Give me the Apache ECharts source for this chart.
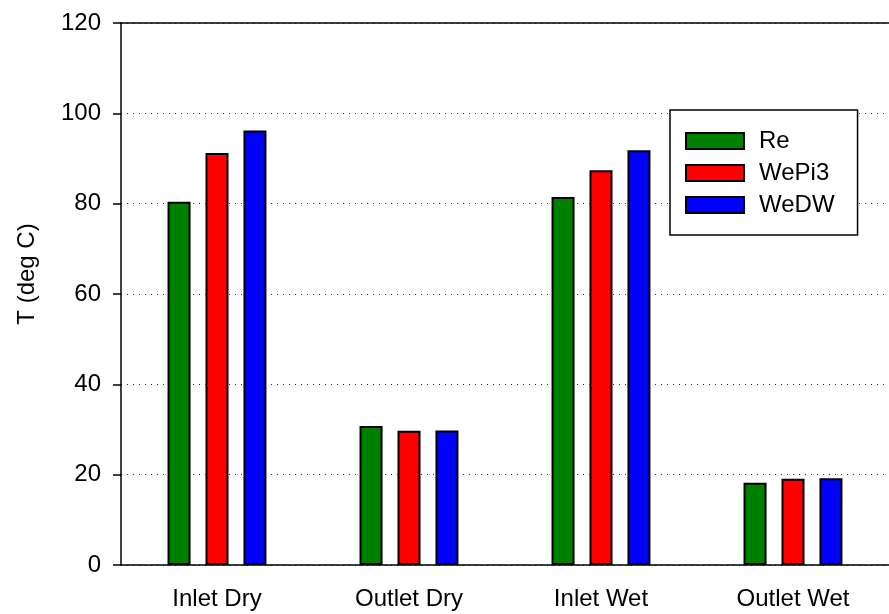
<!DOCTYPE html>
<html>
<head>
<meta charset="utf-8">
<script src="https://cdn.jsdelivr.net/npm/echarts@6/dist/echarts.min.js"></script>
<style>
  html, body { margin: 0; padding: 0; background: #fff; }
  #chart { width: 889px; height: 614px; }
</style>
</head>
<body>
<div id="chart"></div>
<script>
const categories = ['Inlet Dry', 'Outlet Dry', 'Inlet Wet', 'Outlet Wet']
const reValues = [80.4, 30.8, 81.5, 18.2]
const wePi3Values = [91.2, 29.7, 87.4, 19.1]
const weDWValues = [96.2, 29.8, 91.8, 19.2]
const yTicks = { min: 0, max: 120, interval: 20 }

const font = "Arial, 'Liberation Sans', sans-serif"
const colors = ['#008000', '#ff0000', '#0000ff']

function barSeries(name, values, i) {
  return {
    name,
    type: 'bar',
    data: values,
    barWidth: 23,
    barGap: '65%',
    itemStyle: { color: colors[i], borderColor: '#000', borderWidth: 2 },
  }
}

const myChart = echarts.init(document.getElementById('chart'))
myChart.setOption({
  animation: false,
  textStyle: { fontFamily: font },
  grid: { left: 121, top: 23, width: 773, bottom: 49 },
  legend: {
    orient: 'vertical',
    left: 670,
    top: 110,
    backgroundColor: '#fff',
    borderColor: '#000',
    borderWidth: 1.5,
    padding: [19, 23, 18, 15],
    icon: 'rect',
    itemWidth: 58,
    itemHeight: 16,
    itemGap: 8,
    itemStyle: { borderColor: '#000', borderWidth: 2 },
    textStyle: { fontSize: 24, color: '#000', fontFamily: font, padding: [0, 0, 0, 10] },
    data: ['Re', 'WePi3', 'WeDW'],
  },
  xAxis: [{
    type: 'category',
    data: categories,
    axisLine: { lineStyle: { color: '#000', width: 1.5 } },
    axisTick: { alignWithLabel: true, length: 8, lineStyle: { color: '#000', width: 1.5 } },
    axisLabel: { fontSize: 24, color: '#000', margin: 22, fontFamily: font },
  }, {
    type: 'category',
    position: 'top',
    data: categories,
    axisLine: { lineStyle: { color: '#000', width: 1.5 } },
    axisTick: { show: false },
    axisLabel: { show: false },
  }],
  yAxis: {
    type: 'value',
    ...yTicks,
    name: 'T (deg C)',
    nameLocation: 'middle',
    nameGap: 82,
    nameTextStyle: { fontSize: 24, color: '#000', fontFamily: font, padding: [0, 0, 0, 40] },
    axisLine: { show: true, lineStyle: { color: '#000', width: 1.5 } },
    axisTick: { show: true, length: 8, lineStyle: { color: '#000', width: 1.5 } },
    axisLabel: { fontSize: 24, color: '#000', margin: 20, fontFamily: font },
    splitLine: { lineStyle: { color: '#333', type: [1, 5], width: 1 } },
  },
  series: [
    barSeries('Re', reValues, 0),
    barSeries('WePi3', wePi3Values, 1),
    barSeries('WeDW', weDWValues, 2),
  ],
})
</script>
</body>
</html>
